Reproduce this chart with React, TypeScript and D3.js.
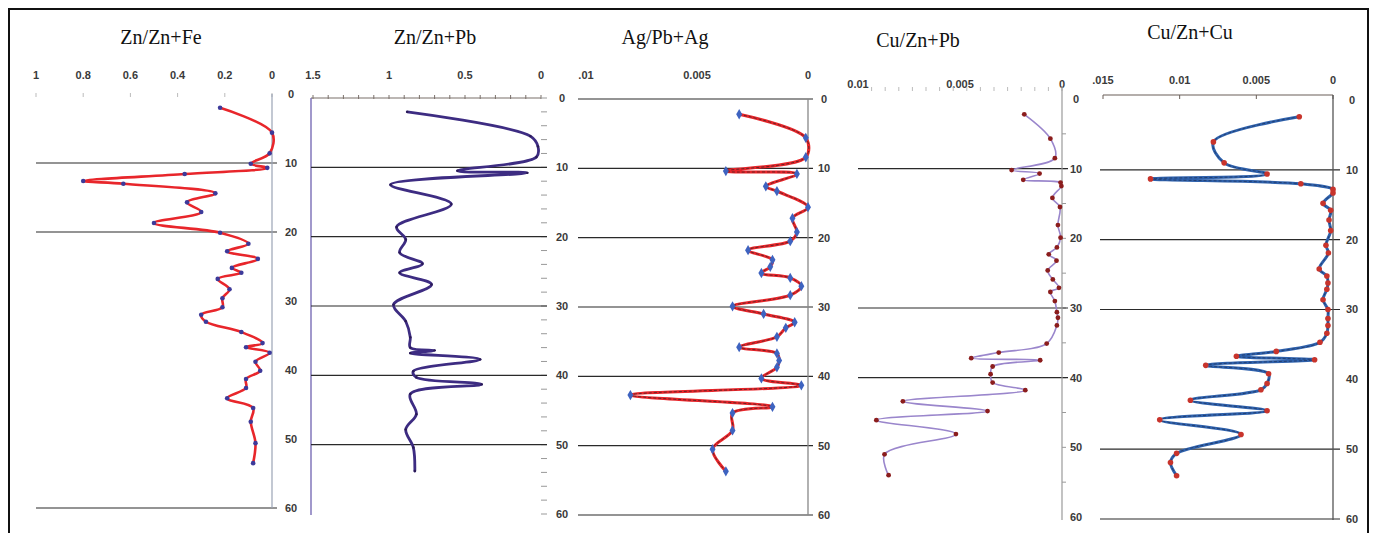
import React from 'react';
import * as d3 from 'd3';

// ---------- titles ----------
const titles = ['Zn/Zn+Fe', 'Zn/Zn+Pb', 'Ag/Pb+Ag', 'Cu/Zn+Pb', 'Cu/Zn+Cu'];

// ---------- depth labels ----------
const depthTicks = [0, 10, 20, 30, 40, 50, 60];

// ---------- Panel 1: Zn/Zn+Fe ----------
const p1Ticks = [1, 0.8, 0.6, 0.4, 0.2, 0];
const p1TickLabels = ['1', '0.8', '0.6', '0.4', '0.2', '0'];
const p1Depth = [2.0, 5.6, 8.6, 10.1, 10.7, 11.6, 12.6, 13.0, 14.4, 15.7, 17.1, 18.7, 20.1, 21.7, 22.8, 23.9, 25.2, 25.9, 26.8, 28.3, 29.6, 30.9, 32.0, 33.0, 34.5, 36.1, 36.7, 37.5, 38.8, 40.1, 41.3, 42.6, 44.1, 45.5, 47.5, 50.6, 53.5];
const p1Value = [0.22, 0.0, 0.01, 0.09, 0.02, 0.37, 0.80, 0.63, 0.24, 0.36, 0.30, 0.50, 0.22, 0.10, 0.19, 0.06, 0.17, 0.13, 0.23, 0.18, 0.21, 0.21, 0.30, 0.28, 0.13, 0.04, 0.11, 0.01, 0.07, 0.05, 0.11, 0.11, 0.19, 0.08, 0.09, 0.07, 0.08];
const p1Lines = [10, 20, 60];

// ---------- Panel 2: Zn/Zn+Pb ----------
const p2Ticks = [1.5, 1, 0.5, 0];
const p2TickLabels = ['1.5', '1', '0.5', '0'];
const p2Depth = [2.0, 5.5, 7.0, 8.5, 10.5, 10.8, 12.5, 15.3, 18.6, 20.4, 22.3, 23.9, 25.2, 26.9, 29.8, 32.2, 34.5, 36.0, 36.4, 36.8, 37.7, 39.4, 40.3, 41.3, 42.7, 45.6, 47.8, 50.4, 53.8];
const p2Value = [0.88, 0.07, 0.02, 0.03, 0.55, 0.09, 0.99, 0.59, 0.95, 0.89, 0.93, 0.78, 0.93, 0.72, 0.97, 0.89, 0.86, 0.86, 0.70, 0.86, 0.40, 0.84, 0.82, 0.39, 0.86, 0.82, 0.89, 0.84, 0.83];
const p2Lines = [10, 20, 30, 40, 50];

// ---------- Panel 3: Ag/Pb+Ag ----------
const p3Ticks = [0.01, 0.005, 0];
const p3TickLabels = ['.01', '0.005', '0'];
const p3Depth = [2.2, 5.6, 8.4, 10.4, 10.8, 12.6, 13.3, 15.6, 17.2, 19.2, 20.5, 21.8, 23.2, 24.2, 25.1, 25.8, 27.0, 28.3, 29.9, 31.0, 32.2, 33.0, 34.3, 35.8, 36.7, 37.7, 38.7, 40.3, 41.3, 42.7, 44.4, 45.3, 47.8, 50.5, 53.7];
const p3Value = [0.0031, 0.0001, 0.0001, 0.0037, 0.0005, 0.0019, 0.0014, 0.0000, 0.0007, 0.0005, 0.0008, 0.0027, 0.0016, 0.0017, 0.0021, 0.0008, 0.0003, 0.0008, 0.0034, 0.0020, 0.0006, 0.0010, 0.0014, 0.0031, 0.0014, 0.0013, 0.0014, 0.0021, 0.0003, 0.0080, 0.0016, 0.0034, 0.0034, 0.0043, 0.0037];
const p3Lines = [0, 10, 20, 30, 40, 50, 60];

// ---------- Panel 4: Cu/Zn+Pb ----------
const p4Ticks = [0.01, 0.005, 0];
const p4TickLabels = ['0.01', '0.005', '0'];
const p4Depth = [2.2, 5.7, 8.5, 10.2, 10.7, 11.6, 12.0, 12.5, 14.2, 15.5, 18.1, 19.9, 21.3, 22.3, 23.2, 24.6, 25.9, 27.1, 27.7, 29.0, 30.6, 31.4, 32.5, 35.1, 36.4, 37.2, 37.5, 38.4, 39.5, 40.7, 41.8, 43.4, 44.8, 46.1, 48.1, 51.0, 54.0];
const p4Value = [0.00185, 0.00057, 0.00035, 0.00247, 0.0011, 0.0019, 0.00007, 0.00003, 0.00047, 0.0001, 0.0002, 0.00007, 0.00025, 0.00065, 0.00027, 0.0007, 0.00045, 0.00015, 0.00057, 0.00035, 0.00025, 0.0002, 0.00025, 0.00075, 0.0031, 0.00445, 0.00107, 0.0034, 0.0035, 0.0034, 0.0018, 0.0078, 0.00365, 0.0091, 0.0052, 0.0087, 0.0085];
const p4Lines = [10, 30, 40];

// ---------- Panel 5: Cu/Zn+Cu ----------
const p5Ticks = [0.015, 0.01, 0.005, 0];
const p5TickLabels = ['.015', '0.01', '0.005', '0'];
const p5Depth = [2.4, 6.0, 9.0, 10.6, 11.3, 12.0, 12.8, 13.3, 14.8, 15.8, 17.2, 18.7, 20.8, 21.9, 24.2, 25.2, 26.2, 27.1, 28.6, 30.0, 31.3, 32.3, 33.4, 34.7, 36.0, 36.7, 37.2, 38.0, 39.2, 40.6, 41.5, 43.0, 44.5, 45.8, 47.9, 50.6, 51.9, 53.8];
const p5Value = [0.0022, 0.0078, 0.0071, 0.0043, 0.0119, 0.0021, 0.0, 0.0, 0.00065, 0.00015, 0.00026, 0.00015, 0.00046, 0.0003, 0.0009, 0.0004, 0.00033, 0.0004, 0.00065, 0.00033, 0.00033, 0.00033, 0.0004, 0.00085, 0.0037, 0.0063, 0.0012, 0.0083, 0.0042, 0.0043, 0.0047, 0.0093, 0.0043, 0.0113, 0.0060, 0.0102, 0.0106, 0.0102];
const p5Lines = [10, 20, 30, 50, 60];

const tickFont = "'Liberation Sans', Arial, sans-serif";
const titleFont = "'Liberation Serif', 'Times New Roman', serif";

type Pt = [number, number];

function zip(depth: number[], value: number[]): Pt[] {
  return depth.map((d, i) => [d, value[i]] as Pt);
}

function Curve({ pts, x, y, color, width, core, marker, markerColor, markerR }: any) {
  const line = d3
    .line<Pt>()
    .x((d) => x(d[1]))
    .y((d) => y(d[0]))
    .curve(d3.curveCatmullRom.alpha(0.5));
  const path = line(pts) || '';
  return (
    <g>
      <path d={path} fill="none" stroke={color} strokeWidth={width} strokeLinejoin="round" strokeLinecap="round" />
      {core && <path d={path} fill="none" stroke={core} strokeWidth={0.8} strokeDasharray="3,2" opacity={0.8} />}
      {pts.map((p: Pt, i: number) =>
        marker === 'diamond' ? (
          <path
            key={i}
            d={d3.symbol().type(d3.symbolDiamond).size(markerR * markerR * 3)() || ''}
            transform={`translate(${x(p[1])},${y(p[0])})`}
            fill={markerColor}
          />
        ) : (
          <circle key={i} cx={x(p[1])} cy={y(p[0])} r={markerR} fill={markerColor} />
        )
      )}
    </g>
  );
}

export default function App() {
  // scales
  const x1 = d3.scaleLinear().domain([1, 0]).range([36, 272]);
  const y1 = d3.scaleLinear().domain([0, 60]).range([94, 508]);
  const x2 = d3.scaleLinear().domain([1.5, 0]).range([313, 541]);
  const y2 = d3.scaleLinear().domain([0, 60]).range([98, 514]);
  const x3 = d3.scaleLinear().domain([0.01, 0]).range([586, 808]);
  const y3 = d3.scaleLinear().domain([0, 60]).range([99, 515]);
  const x4 = d3.scaleLinear().domain([0.01, 0]).range([858, 1062]);
  const y4 = d3.scaleLinear().domain([0, 60]).range([99, 517]);
  const x5 = d3.scaleLinear().domain([0.015, 0]).range([1103, 1333]);
  const y5 = d3.scaleLinear().domain([0, 60]).range([100, 519]);

  const hl = (lines: number[], y: any, xa: number, xb: number, key: string) =>
    lines.map((d) => (
      <line key={key + d} x1={xa} x2={xb} y1={y(d)} y2={y(d)} stroke="#2a2a2a" strokeWidth={1.2} />
    ));

  const depthLabels = (y: any, xc: number, key: string) =>
    depthTicks.map((d) => (
      <text key={key + d} x={xc} y={y(d)} dy="0.35em" textAnchor="middle" fontFamily={tickFont} fontSize={11} fontWeight={700} fill="#3a3a3a">
        {d}
      </text>
    ));

  const topLabels = (ticks: number[], labels: string[], x: any, yb: number, key: string) =>
    ticks.map((t, i) => (
      <text key={key + i} x={x(t)} y={yb} textAnchor="middle" fontFamily={tickFont} fontSize={11} fontWeight={700} fill="#3a3a3a">
        {labels[i]}
      </text>
    ));

  const p2Minor = d3.range(0, 1.5001, 0.1);
  const p2RightMinor = d3.range(0, 60.01, 2);
  const p4Minor = d3.range(0, 15).map((i) => (i * 0.01) / 15);
  const p4RightMinor = d3.range(5, 60, 5);

  return (
    <svg width={1374} height={533} style={{ position: 'absolute', left: 0, top: 0, background: '#fff' }}>
      <rect x={0} y={0} width={1374} height={533} fill="#fff" />
      {/* frame */}
      <path d="M9,533 L9,9 L1368,9 L1368,533" fill="none" stroke="#111" strokeWidth={2} />

      {/* titles */}
      {[161, 435, 665, 918, 1190].map((cx, i) => (
        <text key={'t' + i} x={cx} y={[44, 44, 44, 47, 39][i]} textAnchor="middle" fontFamily={titleFont} fontSize={20} fill="#111">
          {titles[i]}
        </text>
      ))}

      {/* ---------- Panel 1 ---------- */}
      {topLabels(p1Ticks, p1TickLabels, x1, 79, 'p1t')}
      {p1Ticks.map((t) => (
        <line key={'p1m' + t} x1={x1(t)} x2={x1(t)} y1={93} y2={97} stroke="#bbb" strokeWidth={1} />
      ))}
      {hl(p1Lines, y1, 36, 277, 'p1l')}
      <line x1={272} x2={272} y1={94} y2={508} stroke="#9aa3b5" strokeWidth={1.2} />
      {depthLabels(y1, 291, 'p1d')}
      <Curve pts={zip(p1Depth, p1Value)} x={x1} y={y1} color="#e8262b" width={2.6} marker="circle" markerColor="#3d3a9a" markerR={2.3} />

      {/* ---------- Panel 2 ---------- */}
      {topLabels(p2Ticks, p2TickLabels, x2, 79, 'p2t')}
      <line x1={311} x2={541} y1={98} y2={98} stroke="#7a706a" strokeWidth={1.2} />
      {p2Minor.map((t, i) => (
        <line key={'p2m' + i} x1={x2(t)} x2={x2(t)} y1={95} y2={99} stroke="#7a706a" strokeWidth={1} />
      ))}
      {p2RightMinor.map((d, i) => (
        <line key={'p2r' + i} x1={541} x2={547} y1={y2(d)} y2={y2(d)} stroke="#999" strokeWidth={1} />
      ))}
      <line x1={311} x2={311} y1={98} y2={515} stroke="#6f62b0" strokeWidth={1.3} />
      {hl(p2Lines, y2, 311, 547, 'p2l')}
      {depthLabels(y2, 562, 'p2d')}
      <Curve pts={zip(p2Depth, p2Value)} x={x2} y={y2} color="#3d2c82" width={2.8} marker="circle" markerColor="#2a1a55" markerR={1.2} />

      {/* ---------- Panel 3 ---------- */}
      {topLabels(p3Ticks, p3TickLabels, x3, 79, 'p3t')}
      {hl(p3Lines, y3, 578, 813, 'p3l')}
      <line x1={808} x2={808} y1={99} y2={515} stroke="#888" strokeWidth={1.3} />
      {depthLabels(y3, 824, 'p3d')}
      <Curve pts={zip(p3Depth, p3Value)} x={x3} y={y3} color="#e8252a" width={3} core="#222" marker="diamond" markerColor="#3e63c0" markerR={3.2} />

      {/* ---------- Panel 4 ---------- */}
      {topLabels(p4Ticks, p4TickLabels, x4, 88, 'p4t')}
      {p4Minor.map((t, i) => (
        <line key={'p4m' + i} x1={x4(t)} x2={x4(t)} y1={87} y2={91} stroke="#bbb" strokeWidth={1} />
      ))}
      {p4RightMinor.map((d, i) => (
        <line key={'p4r' + i} x1={1062} x2={1066} y1={y4(d)} y2={y4(d)} stroke="#999" strokeWidth={1} />
      ))}
      {hl(p4Lines, y4, 858, 1068, 'p4l')}
      <line x1={1062} x2={1062} y1={88} y2={520} stroke="#9a9a9a" strokeWidth={1.2} />
      {depthLabels(y4, 1076, 'p4d')}
      <Curve pts={zip(p4Depth, p4Value)} x={x4} y={y4} color="#9a86cc" width={1.6} marker="circle" markerColor="#8b1d1d" markerR={2.4} />

      {/* ---------- Panel 5 ---------- */}
      {topLabels(p5Ticks, p5TickLabels, x5, 84, 'p5t')}
      <line x1={1103} x2={1333} y1={95} y2={95} stroke="#6a5f58" strokeWidth={1.2} />
      {p5Ticks.map((t, i) => (
        <line key={'p5m' + i} x1={x5(t)} x2={x5(t)} y1={95} y2={99} stroke="#6a5f58" strokeWidth={1} />
      ))}
      {hl(p5Lines, y5, 1100, 1340, 'p5l')}
      <line x1={1333} x2={1333} y1={95} y2={520} stroke="#555" strokeWidth={1.3} />
      {depthLabels(y5, 1352, 'p5d')}
      <Curve pts={zip(p5Depth, p5Value)} x={x5} y={y5} color="#2f62ad" width={3} core="#1a2a50" marker="circle" markerColor="#c8342c" markerR={2.8} />
    </svg>
  );
}
